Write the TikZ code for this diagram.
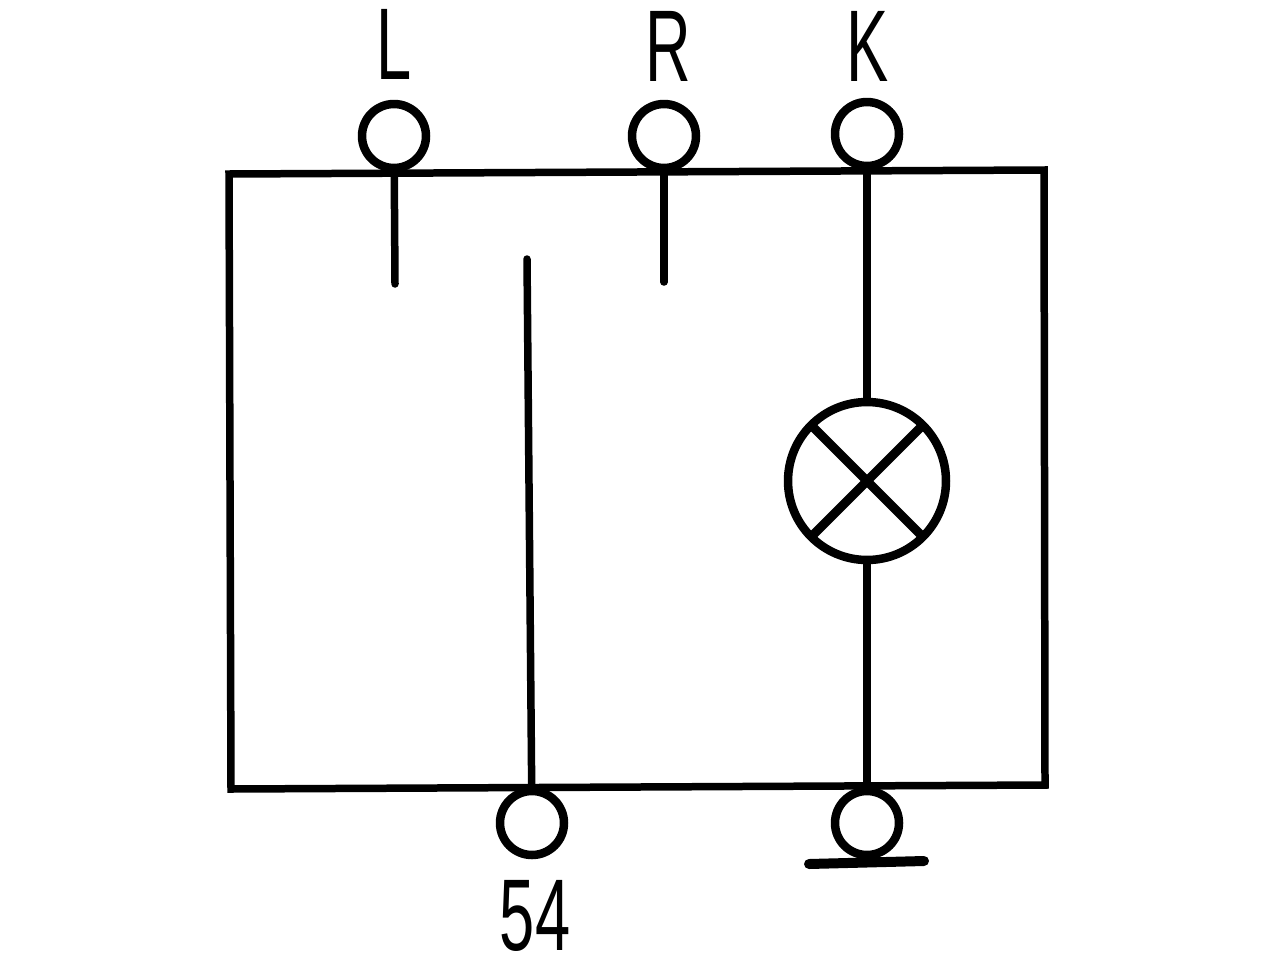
\documentclass[tikz,border=0pt]{standalone}
\usepackage{fontspec}
\setmainfont{Liberation Sans}
\usetikzlibrary{positioning}
\begin{document}
\begin{tikzpicture}[x=0.02cm,y=-0.02cm,line width=0.15cm,line cap=round,main node/.style={circle,draw,line width=0.17cm,outer sep=0pt,minimum size=1.28cm,inner sep=0pt},lamp node/.style={circle,draw,line width=0.17cm,outer sep=0pt,minimum size=3.16cm,inner sep=0pt},label node/.style={font=\fontsize{58}{58}\selectfont,xscale=0.62,inner sep=0pt}]
\useasboundingbox (0,0) rectangle (1280,960);
\begin{scope}
\node[main node] (tl) at (394,136) {};
\node[main node] (tr) at (664,136) {};
\node[main node] (tk) at (867,134) {};
\node[main node] (b54) at (532,823) {};
\node[main node] (bg) at (867,823) {};
\node[lamp node] (lamp) at (867,481) {};
\node[label node] (ll) at (394,44) {L};
\node[label node] (lr) at (668,46) {R};
\node[label node] (lk) at (868,46) {K};
\node[label node] (l54) at (535,916) {54};
\coordinate (c1) at (229,174);
\coordinate (c2) at (1044,170);
\coordinate (c3) at (1045,785);
\coordinate (c4) at (231,789);
\coordinate (el) at (395,284);
\coordinate (er) at (664,282);
\coordinate (em) at (527,259);
\coordinate (g1) at (809,864);
\coordinate (g2) at (924,861);
\end{scope}
\begin{scope}
\draw (c1) -- (c2) -- (c3) -- (c4) -- cycle;
\draw (tl) -- (el);
\draw (tr) -- (er);
\draw (tk) -- (lamp);
\draw (lamp) -- (bg);
\draw (em) -- (b54);
\draw[line width=0.2cm] (g1) -- (g2);
\draw[line cap=butt,line width=0.18cm] (lamp.135) -- (lamp.315);
\draw[line cap=butt,line width=0.18cm] (lamp.45) -- (lamp.225);
\end{scope}
\end{tikzpicture}
\end{document}
